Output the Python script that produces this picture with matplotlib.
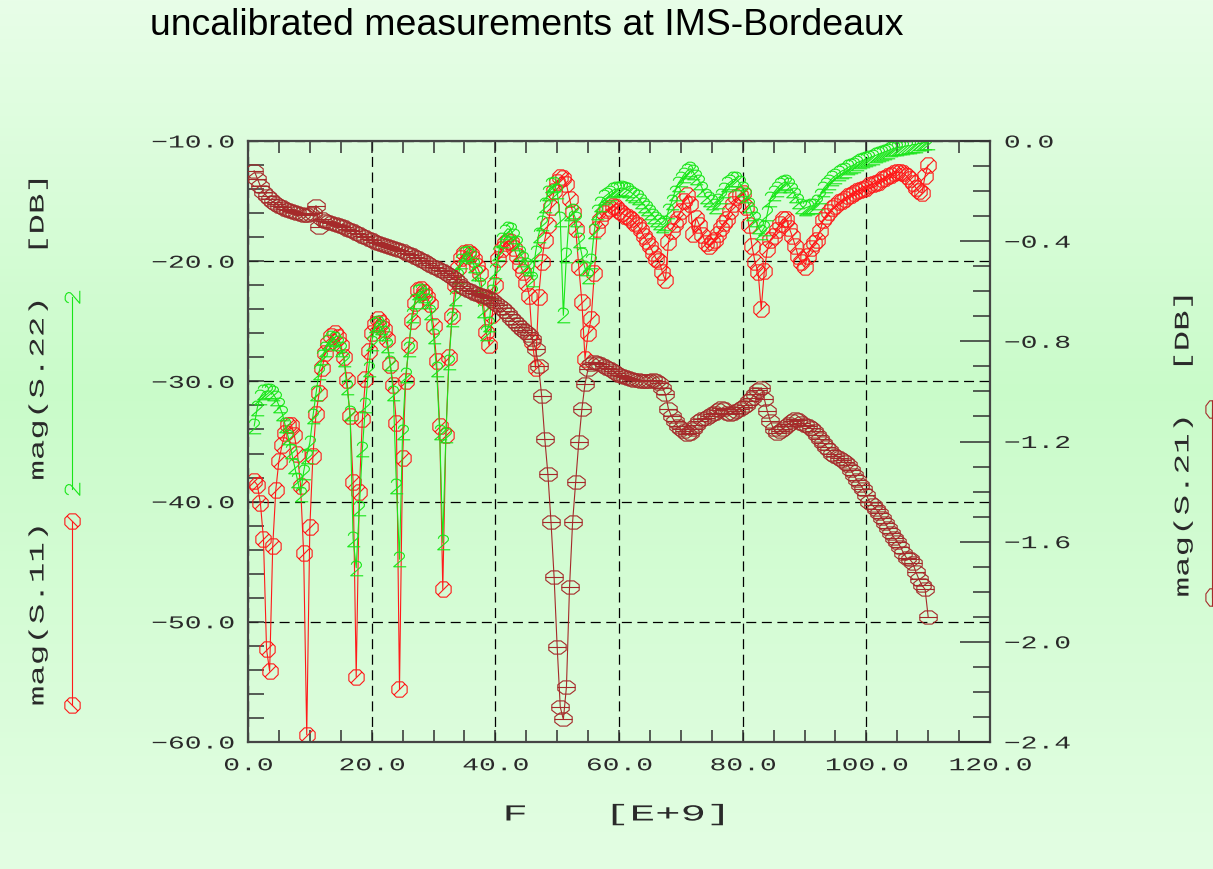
import numpy as np
import matplotlib
matplotlib.use("Agg")
import matplotlib.pyplot as plt
from matplotlib.path import Path
from matplotlib.markers import MarkerStyle
from matplotlib.lines import Line2D
from matplotlib.patheffects import AbstractPathEffect
from matplotlib.transforms import Affine2D
from matplotlib.ticker import MultipleLocator

plt.rcParams["lines.scale_dashes"] = False

# VNA sweep, GHz
f_start, f_stop, f_step = 1.0, 110.0, 0.5
freq = np.arange(f_start, f_stop + f_step / 2, f_step)

# mag(S.11) in dB
s11_db = [
    -38.3, -38.6, -40.1, -43.1, -52.3, -54.1, -43.7, -39.0, -36.6, -35.3,
    -34.3, -33.6, -33.6, -34.5, -36.0, -38.7, -44.3, -59.4, -42.1, -36.2,
    -32.7, -31.0, -28.9, -27.6, -26.8, -26.2, -26.0, -26.3, -27.0, -28.0,
    -29.9, -32.9, -38.4, -54.6, -39.2, -33.1, -29.8, -27.5, -26.0, -25.2,
    -24.8, -25.1, -25.6, -26.5, -28.6, -30.3, -33.5, -55.6, -36.4, -30.0,
    -27.0, -25.0, -23.5, -22.4, -22.3, -22.6, -23.0, -23.6, -25.4, -28.3,
    -33.7, -47.3, -34.5, -28.0, -24.6, -22.0, -20.6, -19.7, -19.3, -19.2,
    -19.4, -19.8, -20.4, -21.0, -23.0, -25.9, -27.0, -24.5, -22.0, -19.8,
    -19.0, -18.5, -18.3, -18.4, -18.9, -19.6, -20.3, -20.9, -21.8, -22.9,
    -26.7, -28.9, -23.0, -20.1, -18.2, -17.0, -15.5, -14.2, -13.4, -13.0,
    -13.1, -13.6, -14.8, -15.9, -17.3, -20.5, -23.4, -28.1, -26.0, -24.8,
    -21.0, -17.3, -16.6, -16.0, -15.7, -15.6, -15.4, -15.5, -15.8, -16.0,
    -16.2, -16.3, -16.5, -16.8, -17.0, -17.4, -17.9, -18.3, -18.7, -19.3,
    -19.8, -20.0, -20.9, -21.6, -18.4, -17.5, -16.9, -16.5, -15.8, -15.0,
    -14.5, -15.2, -17.7, -16.4, -17.0, -17.8, -18.5, -18.7, -18.4, -18.2,
    -17.7, -17.2, -16.8, -16.5, -15.8, -15.2, -14.7, -14.5, -14.3, -15.5,
    -17.0, -18.7, -20.1, -20.9, -24.0, -20.8, -19.0, -18.2, -17.9, -17.4,
    -16.9, -16.5, -16.5, -17.2, -17.9, -18.7, -19.6, -20.1, -20.5, -19.6,
    -18.9, -18.5, -18.2, -17.5, -16.6, -16.2, -15.9, -15.6, -15.4, -15.1,
    -15.0, -14.8, -14.6, -14.5, -14.3, -14.2, -14.1, -14.0, -13.9, -13.7,
    -13.6, -13.5, -13.4, -13.2, -13.1, -12.9, -12.8, -12.7, -12.6, -12.6,
    -12.7, -12.9, -13.2, -13.5, -13.9, -14.2, -14.3, -12.9, -12.0,
]

# mag(S.22) in dB
s22_db = [
    -33.7, -32.2, -31.3, -30.9, -30.8, -30.8, -31.0, -31.4, -32.0, -32.6,
    -33.6, -34.6, -35.8, -37.0, -38.2, -39.4, -37.5, -36.2, -35.1, -32.9,
    -31.0, -29.2, -28.0, -27.3, -26.7, -26.4, -26.5, -26.8, -27.3, -28.1,
    -30.5, -32.6, -43.1, -45.5, -40.5, -35.6, -32.0, -29.0, -26.8, -25.3,
    -25.1, -25.5, -26.0, -27.0, -28.5, -31.0, -38.7, -44.8, -34.2, -29.5,
    -27.3, -24.5, -23.3, -22.6, -22.5, -22.8, -23.3, -24.2, -26.2, -29.0,
    -34.2, -43.4, -34.5, -28.4, -24.8, -23.1, -21.2, -20.0, -19.4, -19.3,
    -19.6, -20.3, -21.0, -22.0, -24.1, -26.0, -25.2, -22.6, -20.8, -19.3,
    -18.2, -17.6, -17.3, -17.4, -17.9, -18.5, -19.3, -19.8, -20.3, -20.6,
    -21.5, -19.3, -17.8, -16.8, -15.3, -14.3, -13.7, -13.6, -14.2, -16.5,
    -24.5, -19.5, -16.0, -15.8, -16.5, -18.2, -19.5, -20.6, -21.2, -20.0,
    -17.5, -15.9, -15.2, -14.7, -14.5, -14.3, -14.1, -14.0, -14.0, -13.9,
    -14.0, -14.1, -14.3, -14.5, -14.7, -15.0, -15.3, -15.6, -15.9, -16.2,
    -16.5, -16.7, -17.0, -16.8, -15.8, -15.1, -14.3, -13.6, -13.2, -12.8,
    -12.5, -12.3, -12.6, -13.0, -13.4, -14.0, -14.6, -14.8, -15.1, -15.4,
    -15.0, -14.6, -14.1, -13.6, -13.4, -13.2, -13.2, -13.5, -14.0, -14.5,
    -15.3, -16.0, -16.5, -17.1, -17.6, -17.2, -16.0, -14.8, -14.3, -14.0,
    -13.7, -13.5, -13.4, -13.7, -14.1, -14.5, -15.0, -15.4, -15.6, -15.5,
    -15.4, -15.4, -15.1, -14.6, -14.0, -13.7, -13.4, -13.1, -12.9, -12.7,
    -12.5, -12.4, -12.2, -12.1, -12.0, -11.8, -11.7, -11.6, -11.5, -11.4,
    -11.3, -11.2, -11.1, -11.0, -10.9, -10.8, -10.7, -10.6, -10.6, -10.5,
    -10.5, -10.4, -10.4, -10.3, -10.3, -10.2, -10.2, -10.1, -10.1,
]

# mag(S.21) in dB (right axis)
s21_db = [
    -0.119, -0.150, -0.180, -0.205, -0.220, -0.232, -0.244, -0.252, -0.259, -0.265,
    -0.270, -0.275, -0.280, -0.284, -0.288, -0.292, -0.295, -0.297, -0.293, -0.287,
    -0.258, -0.345, -0.312, -0.318, -0.322, -0.326, -0.330, -0.334, -0.339, -0.344,
    -0.350, -0.355, -0.361, -0.367, -0.373, -0.379, -0.385, -0.391, -0.397, -0.402,
    -0.406, -0.410, -0.414, -0.418, -0.422, -0.427, -0.432, -0.437, -0.441, -0.446,
    -0.451, -0.456, -0.462, -0.468, -0.474, -0.481, -0.488, -0.495, -0.502, -0.508,
    -0.514, -0.520, -0.527, -0.535, -0.543, -0.553, -0.565, -0.578, -0.588, -0.595,
    -0.600, -0.605, -0.609, -0.613, -0.618, -0.622, -0.627, -0.635, -0.645, -0.656,
    -0.668, -0.680, -0.692, -0.705, -0.718, -0.730, -0.742, -0.753, -0.763, -0.773,
    -0.790, -0.830, -0.900, -1.020, -1.190, -1.330, -1.520, -1.740, -2.020, -2.260,
    -2.310, -2.180, -1.780, -1.520, -1.360, -1.200, -1.070, -0.970, -0.910, -0.890,
    -0.883, -0.887, -0.892, -0.898, -0.905, -0.912, -0.920, -0.927, -0.933, -0.938,
    -0.942, -0.946, -0.950, -0.953, -0.955, -0.957, -0.958, -0.958, -0.957, -0.956,
    -0.958, -0.966, -0.985, -1.010, -1.070, -1.100, -1.120, -1.140, -1.150, -1.160,
    -1.170, -1.165, -1.150, -1.135, -1.120, -1.112, -1.105, -1.098, -1.092, -1.085,
    -1.075, -1.068, -1.072, -1.085, -1.092, -1.085, -1.078, -1.070, -1.062, -1.055,
    -1.040, -1.025, -1.010, -0.995, -0.985, -1.030, -1.080, -1.120, -1.150, -1.165,
    -1.160, -1.150, -1.140, -1.130, -1.120, -1.110, -1.115, -1.125, -1.135, -1.140,
    -1.145, -1.160, -1.175, -1.190, -1.205, -1.220, -1.235, -1.250, -1.258, -1.265,
    -1.272, -1.280, -1.295, -1.315, -1.335, -1.355, -1.372, -1.390, -1.415, -1.440,
    -1.455, -1.468, -1.485, -1.505, -1.525, -1.545, -1.565, -1.585, -1.600, -1.620,
    -1.645, -1.665, -1.670, -1.685, -1.720, -1.750, -1.775, -1.790, -1.900,
]

x_ticks = [0, 20, 40, 60, 80, 100, 120]
left_ticks = [-10, -20, -30, -40, -50, -60]
right_ticks = [0.0, -0.4, -0.8, -1.2, -1.6, -2.0, -2.4]

C_S11 = "#ff1a1a"
C_S22 = "#18e618"
C_S21 = "#a52a2a"
C_TXT = "#2a2a2a"
MONO = "Liberation Mono"

W, H = 1213, 870


class Stretch(AbstractPathEffect):
    """Widen text glyphs along the writing direction (plotter-style lettering)."""

    def __init__(self, sx, anchor="center"):
        super().__init__()
        self.sx = sx
        self.anchor = anchor

    def draw_path(self, renderer, gc, tpath, affine, rgbFace=None):
        xs = tpath.vertices[:, 0]
        if len(xs) == 0:
            return
        x0 = {"left": xs.min(), "right": xs.max()}.get(self.anchor, 0.5 * (xs.min() + xs.max()))
        wide = Affine2D().translate(-x0, 0).scale(self.sx, 1).translate(x0, 0)
        renderer.draw_path(gc, tpath, wide + affine, rgbFace)


def octagon(rx=0.5, ry=0.5):
    a = np.deg2rad(22.5 + 45 * np.arange(8))
    return np.column_stack([rx * np.cos(a), ry * np.sin(a)])


def octagon_with(bar):
    ring = octagon()
    if bar == "slash":
        extra = [[-0.33, -0.33], [0.33, 0.33]]
    else:
        ring = octagon(0.5, 0.38)
        extra = [[-0.46, 0.0], [0.46, 0.0]]
    verts = np.vstack([ring, ring[:1], extra])
    codes = [Path.MOVETO] + [Path.LINETO] * 7 + [Path.CLOSEPOLY, Path.MOVETO, Path.LINETO]
    return Path(verts, codes)


# stroke-font digit "2"
two_verts = [(-0.36, 0.26), (-0.3, 0.4), (-0.16, 0.5), (0.08, 0.5), (0.26, 0.42),
             (0.34, 0.28), (0.32, 0.14), (0.2, 0.02), (-0.4, -0.5), (0.46, -0.5)]
two_path = Path(two_verts)
s11_path = octagon_with("slash")
s21_path = octagon_with("bar")

fig = plt.figure(figsize=(W / 100, H / 100), dpi=100)

# soft green backdrop
bg = fig.add_axes([0, 0, 1, 1], zorder=-10)
rows = np.linspace(0, 1, 400)
stops = [0.0, 0.45, 1.0]
grad = np.stack([np.interp(rows, stops, [0.91, 0.79, 0.89]),
                 np.interp(rows, stops, [0.996, 0.985, 0.995]),
                 np.interp(rows, stops, [0.91, 0.79, 0.89])], axis=-1)[:, None, :]
bg.imshow(grad, aspect="auto", extent=[0, 1, 0, 1])
bg.axis("off")

ax = fig.add_axes([248 / W, 1 - 743 / H, 742 / W, 601 / H])
ax.patch.set_alpha(0)
ax2 = ax.twinx()

ax.plot(freq, s11_db, color=C_S11, lw=0.8, marker=MarkerStyle(s11_path),
        ms=11.0, mfc="none", mec=C_S11, mew=0.8)
ax.plot(freq, s22_db, color=C_S22, lw=0.8, marker=MarkerStyle(two_path),
        ms=10.5, mfc="none", mec=C_S22, mew=0.8)
ax2.plot(freq, s21_db, color=C_S21, lw=0.8, marker=MarkerStyle(s21_path),
         ms=12.5, mfc="none", mec=C_S21, mew=0.8)

ax.set_xlim(0, 120)
ax.set_ylim(-60, -10)
ax2.set_ylim(-2.4, 0.0)

ax.set_xticks(x_ticks, [f"{v:.1f}" for v in x_ticks])
ax.set_yticks(left_ticks, [f"{v:.1f}".replace("-", "\u2212") for v in left_ticks])
ax2.set_yticks(right_ticks, [f"{v:.1f}".replace("-", "\u2212") if v else "0.0" for v in right_ticks])
ax.xaxis.set_minor_locator(MultipleLocator(5))
ax.yaxis.set_minor_locator(MultipleLocator(2))
ax2.yaxis.set_minor_locator(MultipleLocator(0.1))

tick_font = dict(labelsize=13, labelcolor=C_TXT, labelfontfamily=MONO)
ax.tick_params(axis="x", which="both", direction="in", top=True, bottom=True,
               length=8.6, width=1.1, color="#303030", pad=11, **tick_font)
ax.tick_params(axis="y", which="both", direction="in", left=True, right=False,
               length=11.5, width=1.1, color="#303030", pad=10, **tick_font)
ax2.tick_params(axis="y", which="major", direction="in", length=21.6, width=1.1,
                color="#303030", pad=10, **tick_font)
ax2.tick_params(axis="y", which="minor", direction="in", length=12, width=1.1,
                color="#303030")

ax.grid(True, which="major", color="black", lw=0.9, linestyle=(0, (7.2, 4.0)))
for sp in ax.spines.values():
    sp.set_color("#454545")
    sp.set_linewidth(1.6)
for sp in ax2.spines.values():
    sp.set_visible(False)

fig.text(150 / W, 1 - 35 / H, "uncalibrated measurements at IMS-Bordeaux",
         fontsize=26.9, family="Liberation Sans", color="black", va="baseline")

label_kw = dict(family=MONO, size=15, color=C_TXT, ha="center", va="center")
fig.text(38 / W, 1 - 442 / H, "mag(S.11)  mag(S.22)  [DB]", rotation=90,
         path_effects=[Stretch(1.64)], **label_kw)
fig.text(1183 / W, 1 - 446 / H, "mag(S.21)  [DB]", rotation=90,
         path_effects=[Stretch(1.64)], **label_kw)
fig.text(615 / W, 1 - 815 / H, "F   [E+9]", path_effects=[Stretch(1.85)],
         **dict(label_kw, size=16.5))

# legend keys drawn beside the axis titles
turn = Affine2D().rotate_deg(90)
keys = [
    (72, 522, 706, C_S11, s11_path, 11.0),
    (72, 298, 490, C_S22, two_path, 10.5),
    (1212, 410, 598, C_S21, s21_path, 12.5),
]
for xk, y_top, y_bot, col, mpath, ms in keys:
    fig.add_artist(Line2D([xk / W, xk / W], [1 - y_top / H, 1 - y_bot / H],
                          transform=fig.transFigure, color=col, lw=0.8,
                          marker=MarkerStyle(mpath, transform=turn),
                          ms=ms, mfc="none", mec=col, mew=0.8))

# widen the tick lettering
for t in ax.xaxis.get_major_ticks():
    t.label1.set_path_effects([Stretch(1.55, "center")])
for t in ax.yaxis.get_major_ticks():
    t.label1.set_path_effects([Stretch(1.55, "right")])
for t in ax2.yaxis.get_major_ticks():
    t.label2.set_path_effects([Stretch(1.55, "left")])

fig.savefig("out.png", dpi=100)
